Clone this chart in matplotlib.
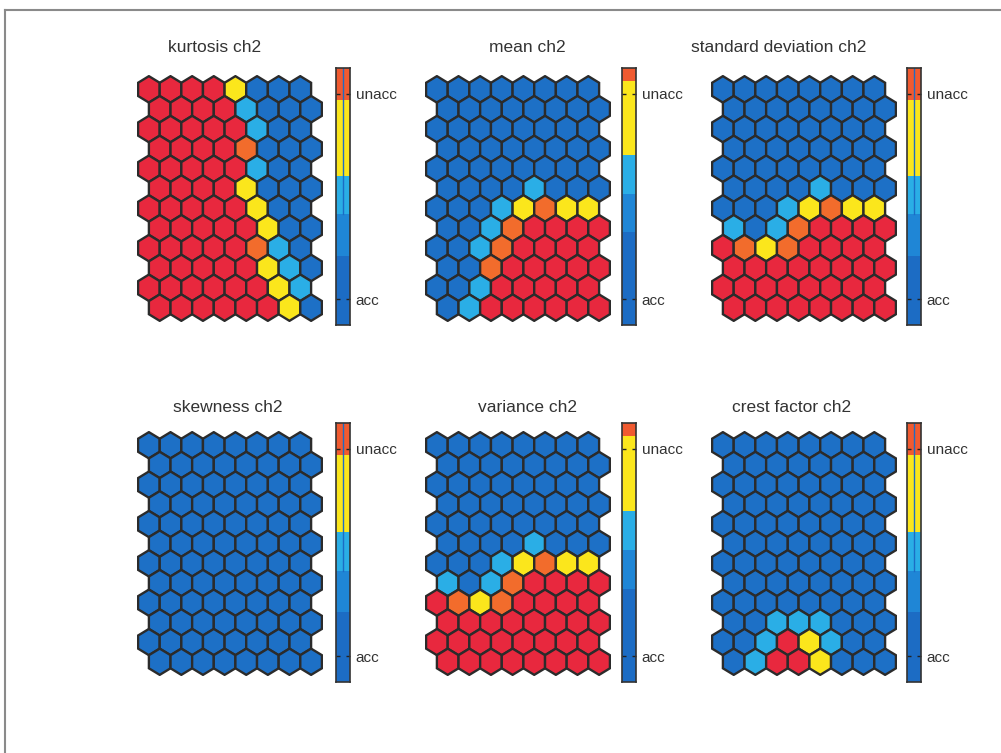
import numpy as np
import matplotlib
matplotlib.use("Agg")
import matplotlib.pyplot as plt
from matplotlib.patches import RegularPolygon
from matplotlib.lines import Line2D

plt.rcParams['font.family'] = ['Liberation Sans', 'DejaVu Sans']

# Component-plane classes per map unit (12 rows x 8 columns, odd rows shifted right)
# 0 = acc (dark blue), 1 = light blue, 2 = yellow, 3 = orange, 4 = unacc (red)
kurtosis = [
    [4, 4, 4, 4, 2, 0, 0, 0],
    [4, 4, 4, 4, 1, 0, 0, 0],
    [4, 4, 4, 4, 4, 1, 0, 0],
    [4, 4, 4, 4, 3, 0, 0, 0],
    [4, 4, 4, 4, 4, 1, 0, 0],
    [4, 4, 4, 4, 2, 0, 0, 0],
    [4, 4, 4, 4, 4, 2, 0, 0],
    [4, 4, 4, 4, 4, 2, 0, 0],
    [4, 4, 4, 4, 4, 3, 1, 0],
    [4, 4, 4, 4, 4, 2, 1, 0],
    [4, 4, 4, 4, 4, 4, 2, 1],
    [4, 4, 4, 4, 4, 4, 2, 0],
]
mean = [
    [0, 0, 0, 0, 0, 0, 0, 0],
    [0, 0, 0, 0, 0, 0, 0, 0],
    [0, 0, 0, 0, 0, 0, 0, 0],
    [0, 0, 0, 0, 0, 0, 0, 0],
    [0, 0, 0, 0, 0, 0, 0, 0],
    [0, 0, 0, 0, 1, 0, 0, 0],
    [0, 0, 0, 1, 2, 3, 2, 2],
    [0, 0, 1, 3, 4, 4, 4, 4],
    [0, 0, 1, 3, 4, 4, 4, 4],
    [0, 0, 3, 4, 4, 4, 4, 4],
    [0, 0, 1, 4, 4, 4, 4, 4],
    [0, 1, 4, 4, 4, 4, 4, 4],
]
std_dev = [
    [0, 0, 0, 0, 0, 0, 0, 0],
    [0, 0, 0, 0, 0, 0, 0, 0],
    [0, 0, 0, 0, 0, 0, 0, 0],
    [0, 0, 0, 0, 0, 0, 0, 0],
    [0, 0, 0, 0, 0, 0, 0, 0],
    [0, 0, 0, 0, 1, 0, 0, 0],
    [0, 0, 0, 1, 2, 3, 2, 2],
    [1, 0, 1, 3, 4, 4, 4, 4],
    [4, 3, 2, 3, 4, 4, 4, 4],
    [4, 4, 4, 4, 4, 4, 4, 4],
    [4, 4, 4, 4, 4, 4, 4, 4],
    [4, 4, 4, 4, 4, 4, 4, 4],
]
skewness = [[0] * 8 for _ in range(12)]
variance = [
    [0, 0, 0, 0, 0, 0, 0, 0],
    [0, 0, 0, 0, 0, 0, 0, 0],
    [0, 0, 0, 0, 0, 0, 0, 0],
    [0, 0, 0, 0, 0, 0, 0, 0],
    [0, 0, 0, 0, 0, 0, 0, 0],
    [0, 0, 0, 0, 1, 0, 0, 0],
    [0, 0, 0, 1, 2, 3, 2, 2],
    [1, 0, 1, 3, 4, 4, 4, 4],
    [4, 3, 2, 3, 4, 4, 4, 4],
    [4, 4, 4, 4, 4, 4, 4, 4],
    [4, 4, 4, 4, 4, 4, 4, 4],
    [4, 4, 4, 4, 4, 4, 4, 4],
]
crest_factor = [
    [0, 0, 0, 0, 0, 0, 0, 0],
    [0, 0, 0, 0, 0, 0, 0, 0],
    [0, 0, 0, 0, 0, 0, 0, 0],
    [0, 0, 0, 0, 0, 0, 0, 0],
    [0, 0, 0, 0, 0, 0, 0, 0],
    [0, 0, 0, 0, 0, 0, 0, 0],
    [0, 0, 0, 0, 0, 0, 0, 0],
    [0, 0, 0, 0, 0, 0, 0, 0],
    [0, 0, 0, 0, 0, 0, 0, 0],
    [0, 0, 1, 1, 1, 0, 0, 0],
    [0, 0, 1, 4, 2, 1, 0, 0],
    [0, 1, 4, 4, 2, 0, 0, 0],
]

titles = ["kurtosis ch2", "mean ch2", "standard deviation ch2",
          "skewness ch2", "variance ch2", "crest factor ch2"]
planes = [kurtosis, mean, std_dev, skewness, variance, crest_factor]

# Colour-bar band boundaries (bottom to top, fraction of the bar)
bands_a = [0.0, 0.27, 0.43, 0.58, 0.875, 1.0]
bands_b = [0.0, 0.36, 0.51, 0.66, 0.95, 1.0]
plane_bands = [bands_a, bands_b, bands_a, bands_a, bands_b, bands_a]
center_line = [True, False, True, True, False, True]
tick_pos = [0.10, 0.90]
tick_labels = ["acc", "unacc"]

cell_colors = ["#1d70c6", "#2aaee6", "#fbe61c", "#f26c2c", "#e8283e"]
band_colors = ["#1c6cc4", "#1f86d6", "#2aaee6", "#fbe61c", "#f05a30"]
edge_col = "#2b2b2b"
text_col = "#333333"

W, H = 1001, 753
fig = plt.figure(figsize=(W / 100, H / 100), dpi=100)
fig.patch.set_facecolor("white")

def fx(px):
    return px / W

def fy(py):
    return 1 - py / H

hex_left = [137, 425, 711]
cbar_left = [336, 622, 907]
title_x = [215, 527, 779, 228, 527, 792]
row_top = [75, 431]
row_bottom = [322, 676]
cbar_top = [68, 423]
cbar_bottom = [325, 682]
title_y = [48, 408]

s3 = np.sqrt(3) / 2
r = 1 / np.sqrt(3)

for k, data in enumerate(planes):
    rr, cc = divmod(k, 3)
    ax = fig.add_axes([fx(hex_left[cc]), fy(row_bottom[rr]),
                       fx(186), (row_bottom[rr] - row_top[rr]) / H])
    grid = np.array(data)
    nrow, ncol = grid.shape
    for i in range(nrow):
        for j in range(ncol):
            x = j + 0.5 * (i % 2)
            y = -i * s3
            ax.add_patch(RegularPolygon((x, y), numVertices=6, radius=r,
                                        orientation=0,
                                        facecolor=cell_colors[grid[i, j]],
                                        edgecolor=edge_col, linewidth=1.7))
    ax.set_xlim(-0.55, ncol + 0.05)
    ax.set_ylim(-(nrow - 1) * s3 - r - 0.05, r + 0.05)
    ax.set_axis_off()

    # colour bar
    cax = fig.add_axes([fx(cbar_left[cc]), fy(cbar_bottom[rr]),
                        fx(14), (cbar_bottom[rr] - cbar_top[rr]) / H])
    b = plane_bands[k]
    for n in range(len(b) - 1):
        cax.axhspan(b[n], b[n + 1], color=band_colors[n], lw=0)
    if center_line[k]:
        cax.plot([0.5, 0.5], [b[2], 1], color="#1c6cc4", lw=1.0)
    cax.set_xlim(0, 1)
    cax.set_ylim(0, 1)
    cax.set_xticks([])
    cax.set_yticks(tick_pos)
    cax.set_yticklabels(tick_labels)
    cax.tick_params(axis="y", direction="in", left=True, right=True,
                    labelleft=False, labelright=True, length=3, width=1,
                    color="#222222", labelsize=11, labelcolor=text_col, pad=4)
    for sp in cax.spines.values():
        sp.set_linewidth(1.2)
        sp.set_color("#333333")

    fig.text(fx(title_x[k]), fy(title_y[rr]), titles[k], ha="center",
             va="center", fontsize=12.5, color=text_col)

# outer frame
fig.add_artist(Line2D([fx(5), fx(5)], [fy(10), 0], color="#8a8a8a", lw=1.5))
fig.add_artist(Line2D([fx(5), fx(1000)], [fy(10), fy(10)], color="#8a8a8a", lw=1.5))

fig.savefig("out.png", dpi=100, facecolor="white")
